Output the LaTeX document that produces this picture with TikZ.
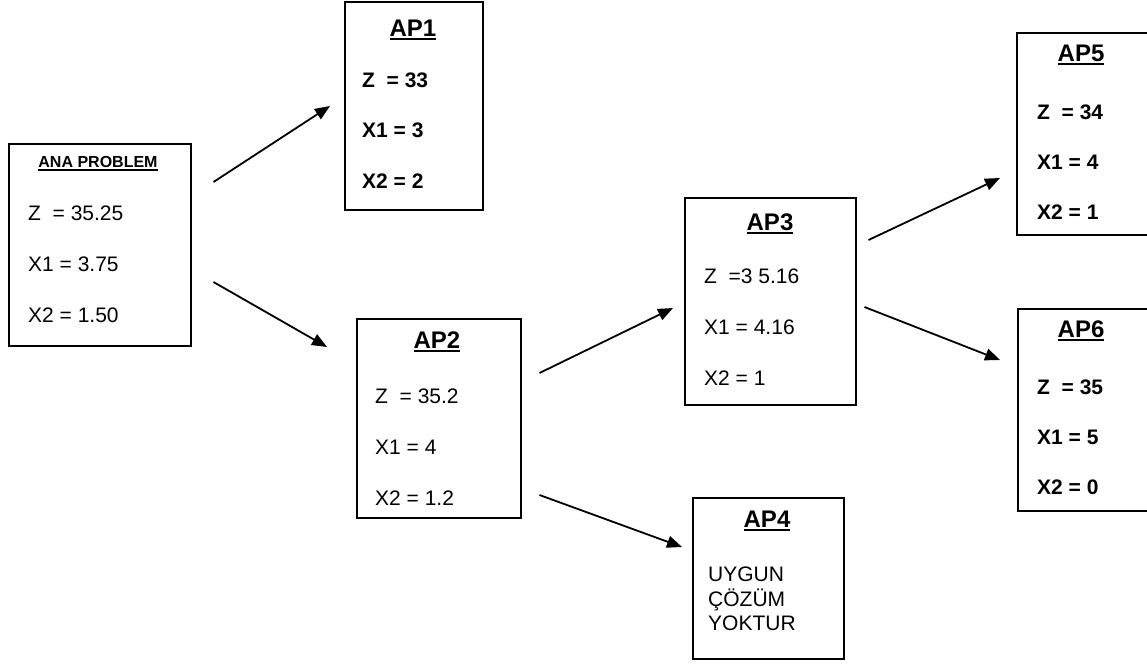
\documentclass[tikz,border=0pt]{standalone}
\usepackage{fontspec}
\setmainfont{Liberation Sans}
\usetikzlibrary{arrows.meta,calc}
\newcommand\myul[1]{\setbox0\hbox{#1}\rlap{\rule[-3.5pt]{\wd0}{2pt}}\box0}
\tikzset{
  box/.style={draw, line width=1.5pt, rectangle, inner sep=0pt, anchor=north west},
  val/.style={anchor=west, inner sep=0pt, font=\fontsize{21}{24}\selectfont},
  bval/.style={val, font=\fontsize{21}{24}\selectfont\bfseries},
  ttl/.style={anchor=center, inner sep=0pt, font=\fontsize{24}{28}\selectfont\bfseries},
  arr/.style={line width=1.8pt, -{Triangle[length=15pt,width=12pt]}}
}
\begin{document}
\begin{tikzpicture}[x=1pt,y=-1pt]
\useasboundingbox (0,0) rectangle (1147,664);
\fill[white] (0,0) rectangle (1147,664);
% boxes
\node[box, minimum width=182pt, minimum height=202pt] (ana) at (8,143) {};
\node[box, minimum width=138pt, minimum height=208pt] (ap1) at (344,1) {};
\node[box, minimum width=164pt, minimum height=199pt] (ap2) at (356,318) {};
\node[box, minimum width=171pt, minimum height=207pt] (ap3) at (684,197) {};
\node[box, minimum width=151pt, minimum height=161pt] (ap4) at (692,497) {};
\node[box, minimum width=160pt, minimum height=202pt] (ap5) at (1016,32) {};
\node[box, minimum width=160pt, minimum height=202pt] (ap6) at (1017,308) {};
% ANA PROBLEM
\node[anchor=center, inner sep=0pt, font=\fontsize{16}{18}\selectfont\bfseries] (anat) at (98,164) {\myul{ANA PROBLEM}};
\node[val] (anaz) at (28,213) {Z\ \ = 35.25};
\node[val] (anax1) at (28,264) {X1 = 3.75};
\node[val] (anax2) at (28,315) {X2 = 1.50};
% AP1
\node[ttl] (ap1t) at (413,30) {\myul{AP1}};
\node[bval] (ap1z) at (362,80) {Z\ \ = 33};
\node[bval] (ap1x1) at (362,130) {X1 = 3};
\node[bval] (ap1x2) at (362,181) {X2 = 2};
% AP2
\node[ttl] (ap2t) at (437,342) {\myul{AP2}};
\node[val] (ap2z) at (375,396) {Z\ \ = 35.2};
\node[val] (ap2x1) at (375,447) {X1 = 4};
\node[val] (ap2x2) at (375,498) {X2 = 1.2};
% AP3
\node[ttl] (ap3t) at (770,224) {\myul{AP3}};
\node[val] (ap3z) at (704,276) {Z\ \ =3 5.16};
\node[val] (ap3x1) at (704,327) {X1 = 4.16};
\node[val] (ap3x2) at (704,378) {X2 = 1};
% AP4
\node[ttl] (ap4t) at (767,521) {\myul{AP4}};
\node[anchor=north west, inner sep=0pt, align=left, font=\fontsize{21}{24.5}\selectfont] (ap4txt) at (708,567) {UYGUN\\ÇÖZÜM\\YOKTUR};
% AP5
\node[ttl] (ap5t) at (1081,55) {\myul{AP5}};
\node[bval] (ap5z) at (1037,112) {Z\ \ = 34};
\node[bval] (ap5x1) at (1037,162) {X1 = 4};
\node[bval] (ap5x2) at (1037,212) {X2 = 1};
% AP6
\node[ttl] (ap6t) at (1081,331) {\myul{AP6}};
\node[bval] (ap6z) at (1037,387) {Z\ \ = 35};
\node[bval] (ap6x1) at (1037,437) {X1 = 5};
\node[bval] (ap6x2) at (1037,487) {X2 = 0};
% arrows
\draw[arr] ($(ana.north east)+(22,39)$) -- ($(ap1.north west)+(-14,105)$);
\draw[arr] ($(ana.north east)+(22,139)$) -- ($(ap2.north west)+(-29,29)$);
\draw[arr] ($(ap2.north east)+(18,55)$) -- ($(ap3.north west)+(-11,111)$);
\draw[arr] ($(ap2.north east)+(18,177)$) -- ($(ap4.north west)+(-10,50)$);
\draw[arr] ($(ap3.north east)+(12,43)$) -- ($(ap5.north west)+(-16,146)$);
\draw[arr] ($(ap3.north east)+(8,110)$) -- ($(ap6.north west)+(-17,52)$);
\end{tikzpicture}
\end{document}
